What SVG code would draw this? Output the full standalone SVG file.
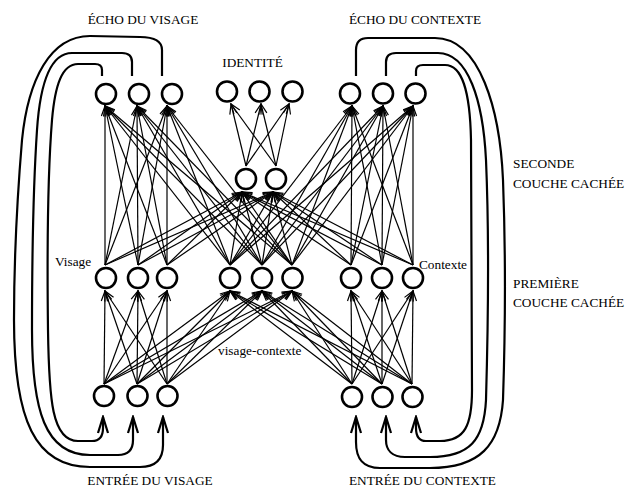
<svg xmlns="http://www.w3.org/2000/svg" width="625" height="487" viewBox="0 0 625 487">
  <style>
    text { font-family: "Liberation Serif", "Times New Roman", serif; font-size: 13.3px; fill: #000; }
    .mid { text-anchor: middle; }
    .conn line { stroke: #000; stroke-width: 1.2; fill: none; marker-end: url(#ah); }
    .loop path { stroke: #000; stroke-width: 2.2; fill: none; marker-end: url(#big); }
    .node circle { fill: #fff; stroke: #000; stroke-width: 2.6; }
  </style>
  <defs>
    <marker id="ah" viewBox="-1 -1 12 10" refX="10" refY="4" markerWidth="12" markerHeight="10" markerUnits="userSpaceOnUse" orient="auto">
      <path d="M0,0.4 L10,4 L0,7.6" fill="none" stroke="#000" stroke-width="1.2"/>
    </marker>
    <marker id="big" viewBox="-2 -2 20 14" refX="16" refY="5" markerWidth="20" markerHeight="14" markerUnits="userSpaceOnUse" orient="auto">
      <path d="M0,0 L16,5 L0,10" fill="none" stroke="#000" stroke-width="2.2"/>
    </marker>
  </defs>

  <!-- labels -->
  <text class="mid" x="143" y="24">ÉCHO DU VISAGE</text>
  <text class="mid" x="252.5" y="67">IDENTITÉ</text>
  <text class="mid" x="415" y="24">ÉCHO DU CONTEXTE</text>
  <text x="513" y="168">SECONDE</text>
  <text x="513" y="188">COUCHE CACHÉE</text>
  <text x="513" y="288">PREMIÈRE</text>
  <text x="513" y="307">COUCHE CACHÉE</text>
  <text x="55" y="266">Visage</text>
  <text x="419" y="269">Contexte</text>
  <text x="218" y="355">visage-contexte</text>
  <text class="mid" x="150" y="485">ENTRÉE DU VISAGE</text>
  <text class="mid" x="422.5" y="485">ENTRÉE DU CONTEXTE</text>

  <!-- feedback loops: echo units back to input units -->
  <g id="loops" class="loop">
    <path d="M102,76 V70 Q102,64 95,64 L78,64 C62,64 55,85 52,120 C48,170 47,250 48,330 C49,400 52,441 78,441 L92,441 C100,441 103,436 103,428 V417"/>
    <path d="M132,76 V62 Q132,53 122,53 L72,53 C50,53 40,85 37,130 C33,190 32,260 32,330 C32,410 45,455 90,455 L118,455 C128,455 133,450 133,440 V417"/>
    <path d="M162,76 V50 C162,41 155,37 140,37 L90,36 C50,36 28,80 22,140 C17,200 14,260 14,320 C14,420 35,467 90,467 L140,467 C155,467 163,460 163,445 V417"/>
    <path d="M416,76 V71 Q416,65 423,65 L445,65 C462,65 470,90 471,140 L472,390 C472,425 465,441 440,441 L426,441 C419,441 416,436 416,428 V417"/>
    <path d="M386,76 V62 Q386,53 396,53 L438,53 C468,53 483,100 486,160 C489,230 488,330 486,400 C484,440 470,457 430,457 L405,457 C392,457 386,450 386,440 V417"/>
    <path d="M356,76 V50 Q356,38 368,38 L435,38 C480,38 500,110 503,180 C506,260 505,340 503,400 C500,445 480,468 430,468 L380,468 C362,468 356,458 356,442 V417"/>
  </g>

  <g id="connectors" class="conn">
    <!-- face input -> face hidden -->
    <line x1="104" y1="384" x2="105" y2="291"/><line x1="104" y1="384" x2="138" y2="291"/><line x1="104" y1="384" x2="167" y2="291"/>
    <line x1="137" y1="384" x2="105" y2="291"/><line x1="137" y1="384" x2="138" y2="291"/><line x1="137" y1="384" x2="167" y2="291"/>
    <line x1="167" y1="384" x2="105" y2="291"/><line x1="167" y1="384" x2="138" y2="291"/><line x1="167" y1="384" x2="167" y2="291"/>
    <!-- face input -> face-context hidden -->
    <line x1="104" y1="384" x2="230" y2="291"/><line x1="104" y1="384" x2="262" y2="291"/><line x1="104" y1="384" x2="292" y2="291"/>
    <line x1="137" y1="384" x2="230" y2="291"/><line x1="137" y1="384" x2="262" y2="291"/><line x1="137" y1="384" x2="292" y2="291"/>
    <line x1="167" y1="384" x2="230" y2="291"/><line x1="167" y1="384" x2="262" y2="291"/><line x1="167" y1="384" x2="292" y2="291"/>
    <!-- context input -> context hidden -->
    <line x1="352" y1="384" x2="351" y2="291"/><line x1="352" y1="384" x2="382" y2="291"/><line x1="352" y1="384" x2="413" y2="291"/>
    <line x1="382" y1="384" x2="351" y2="291"/><line x1="382" y1="384" x2="382" y2="291"/><line x1="382" y1="384" x2="413" y2="291"/>
    <line x1="412" y1="384" x2="351" y2="291"/><line x1="412" y1="384" x2="382" y2="291"/><line x1="412" y1="384" x2="413" y2="291"/>
    <!-- context input -> face-context hidden -->
    <line x1="352" y1="384" x2="230" y2="291"/><line x1="352" y1="384" x2="262" y2="291"/><line x1="352" y1="384" x2="292" y2="291"/>
    <line x1="382" y1="384" x2="230" y2="291"/><line x1="382" y1="384" x2="262" y2="291"/><line x1="382" y1="384" x2="292" y2="291"/>
    <line x1="412" y1="384" x2="230" y2="291"/><line x1="412" y1="384" x2="262" y2="291"/><line x1="412" y1="384" x2="292" y2="291"/>
    <!-- face hidden -> face echo -->
    <line x1="105" y1="265" x2="105" y2="106"/><line x1="105" y1="265" x2="137" y2="106"/><line x1="105" y1="265" x2="167" y2="106"/>
    <line x1="138" y1="265" x2="105" y2="106"/><line x1="138" y1="265" x2="137" y2="106"/><line x1="138" y1="265" x2="167" y2="106"/>
    <line x1="167" y1="265" x2="105" y2="106"/><line x1="167" y1="265" x2="137" y2="106"/><line x1="167" y1="265" x2="167" y2="106"/>
    <!-- face-context hidden -> face echo -->
    <line x1="230" y1="265" x2="105" y2="106"/><line x1="230" y1="265" x2="137" y2="106"/><line x1="230" y1="265" x2="167" y2="106"/>
    <line x1="262" y1="265" x2="105" y2="106"/><line x1="262" y1="265" x2="137" y2="106"/><line x1="262" y1="265" x2="167" y2="106"/>
    <line x1="292" y1="265" x2="105" y2="106"/><line x1="292" y1="265" x2="137" y2="106"/><line x1="292" y1="265" x2="167" y2="106"/>
    <!-- face-context hidden -> context echo -->
    <line x1="230" y1="265" x2="352" y2="106"/><line x1="230" y1="265" x2="383" y2="106"/><line x1="230" y1="265" x2="413" y2="106"/>
    <line x1="262" y1="265" x2="352" y2="106"/><line x1="262" y1="265" x2="383" y2="106"/><line x1="262" y1="265" x2="413" y2="106"/>
    <line x1="292" y1="265" x2="352" y2="106"/><line x1="292" y1="265" x2="383" y2="106"/><line x1="292" y1="265" x2="413" y2="106"/>
    <!-- context hidden -> context echo -->
    <line x1="351" y1="265" x2="352" y2="106"/><line x1="351" y1="265" x2="383" y2="106"/><line x1="351" y1="265" x2="413" y2="106"/>
    <line x1="382" y1="265" x2="352" y2="106"/><line x1="382" y1="265" x2="383" y2="106"/><line x1="382" y1="265" x2="413" y2="106"/>
    <line x1="413" y1="265" x2="352" y2="106"/><line x1="413" y1="265" x2="383" y2="106"/><line x1="413" y1="265" x2="413" y2="106"/>
    <!-- first hidden layer -> second hidden layer -->
    <line x1="105" y1="265" x2="242" y2="192"/><line x1="105" y1="265" x2="273" y2="192"/>
    <line x1="138" y1="265" x2="242" y2="192"/><line x1="138" y1="265" x2="273" y2="192"/>
    <line x1="167" y1="265" x2="242" y2="192"/><line x1="167" y1="265" x2="273" y2="192"/>
    <line x1="230" y1="265" x2="242" y2="192"/><line x1="230" y1="265" x2="273" y2="192"/>
    <line x1="262" y1="265" x2="242" y2="192"/><line x1="262" y1="265" x2="273" y2="192"/>
    <line x1="292" y1="265" x2="242" y2="192"/><line x1="292" y1="265" x2="273" y2="192"/>
    <line x1="351" y1="265" x2="242" y2="192"/><line x1="351" y1="265" x2="273" y2="192"/>
    <line x1="382" y1="265" x2="242" y2="192"/><line x1="382" y1="265" x2="273" y2="192"/>
    <line x1="413" y1="265" x2="242" y2="192"/><line x1="413" y1="265" x2="273" y2="192"/>
    <!-- second hidden layer -> identity -->
    <line x1="246" y1="166" x2="231" y2="104"/><line x1="246" y1="166" x2="261" y2="104"/><line x1="246" y1="166" x2="289" y2="104"/>
    <line x1="276" y1="166" x2="231" y2="104"/><line x1="276" y1="166" x2="261" y2="104"/><line x1="276" y1="166" x2="289" y2="104"/>
  </g>

  <!-- units -->
  <g id="echo-visage-1" class="node"><circle cx="106" cy="94" r="10"/></g>
  <g id="echo-visage-2" class="node"><circle cx="139" cy="94" r="10"/></g>
  <g id="echo-visage-3" class="node"><circle cx="172" cy="94" r="10"/></g>
  <g id="identite-1" class="node"><circle cx="227" cy="91.5" r="10"/></g>
  <g id="identite-2" class="node"><circle cx="259.5" cy="91.5" r="10"/></g>
  <g id="identite-3" class="node"><circle cx="292.5" cy="91.5" r="10"/></g>
  <g id="echo-contexte-1" class="node"><circle cx="350" cy="93.5" r="10"/></g>
  <g id="echo-contexte-2" class="node"><circle cx="383" cy="93.5" r="10"/></g>
  <g id="echo-contexte-3" class="node"><circle cx="415.5" cy="93.5" r="10"/></g>
  <g id="seconde-1" class="node"><circle cx="246" cy="179" r="10"/></g>
  <g id="seconde-2" class="node"><circle cx="276" cy="179" r="10"/></g>
  <g id="visage-1" class="node"><circle cx="106" cy="278" r="10"/></g>
  <g id="visage-2" class="node"><circle cx="138" cy="278" r="10"/></g>
  <g id="visage-3" class="node"><circle cx="167" cy="278" r="10"/></g>
  <g id="visage-contexte-1" class="node"><circle cx="230" cy="278" r="10"/></g>
  <g id="visage-contexte-2" class="node"><circle cx="262" cy="278" r="10"/></g>
  <g id="visage-contexte-3" class="node"><circle cx="292.5" cy="278" r="10"/></g>
  <g id="contexte-1" class="node"><circle cx="351" cy="278" r="10"/></g>
  <g id="contexte-2" class="node"><circle cx="382" cy="278" r="10"/></g>
  <g id="contexte-3" class="node"><circle cx="413" cy="278" r="10"/></g>
  <g id="entree-visage-1" class="node"><circle cx="104" cy="396" r="10"/></g>
  <g id="entree-visage-2" class="node"><circle cx="137.5" cy="396" r="10"/></g>
  <g id="entree-visage-3" class="node"><circle cx="167.5" cy="396" r="10"/></g>
  <g id="entree-contexte-1" class="node"><circle cx="352" cy="397" r="10"/></g>
  <g id="entree-contexte-2" class="node"><circle cx="382.5" cy="397" r="10"/></g>
  <g id="entree-contexte-3" class="node"><circle cx="412.5" cy="397" r="10"/></g>
</svg>
